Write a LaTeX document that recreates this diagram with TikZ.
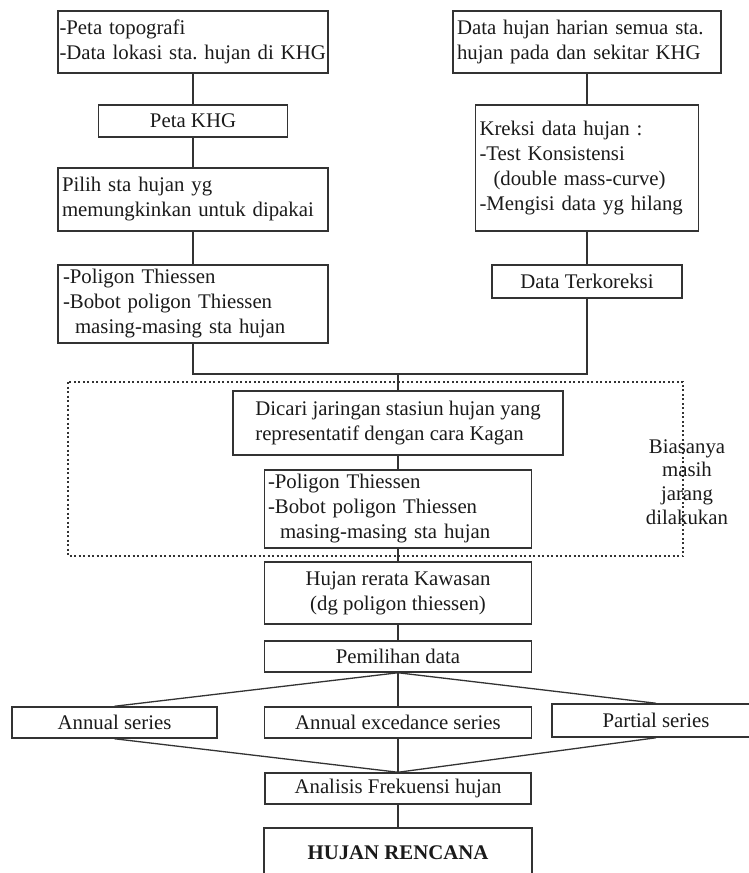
\documentclass[tikz,border=0pt]{standalone}
\usepackage{fontspec}
\setmainfont{Liberation Serif}
\frenchspacing
\definecolor{boxgray}{HTML}{333333}
\definecolor{textgray}{HTML}{1A1A1A}

\begin{document}
\begin{tikzpicture}[x=1pt, y=-1pt,
  box/.style={draw=boxgray, line width=1.5pt, inner xsep=4pt, inner ysep=0pt,
    text=textgray, font=\fontsize{20.8}{25}\selectfont},
  link/.style={draw=boxgray, line width=1.3pt}]

  \useasboundingbox (0,0) rectangle (748,873);

  % Left column: map and rain stations
  \node[box, text width=267pt, minimum height=62pt, align=left, inner xsep=1.5pt] (topo) at (193,42)
    {-Peta topografi\\-Data lokasi sta. hujan di KHG};
  \node[box, minimum width=189pt, minimum height=32pt, align=center] (khg) at (193,121) {Peta KHG};
  \node[box, text width=262pt, minimum height=63pt, align=left] (pilih) at (193,199.5)
    {Pilih sta hujan yg\\memungkinkan untuk dipakai};
  \node[box, text width=260pt, minimum height=78pt, align=left, inner xsep=5pt] (poliA) at (193,304)
    {-Poligon Thiessen\\-Bobot poligon Thiessen\\\hspace*{12pt}masing-masing sta hujan};

  % Right column: daily rain data
  \node[box, text width=260pt, minimum height=62pt, align=left] (harian) at (587,42)
    {Data hujan harian semua sta.\\hujan pada dan sekitar KHG};
  \node[box, text width=215pt, minimum height=126pt, align=left] (koreksi) at (587,168)
    {Kreksi data hujan :\\-Test Konsistensi\\\hspace*{14pt}(double mass-curve)\\-Mengisi data yg hilang};
  \node[box, minimum width=190pt, minimum height=33pt, align=center] (terkoreksi) at (587,281.5) {Data Terkoreksi};

  \draw[link] (topo) -- (khg);
  \draw[link] (khg) -- (pilih);
  \draw[link] (pilih) -- (poliA);
  \draw[link] (harian) -- (koreksi);
  \draw[link] (koreksi) -- (terkoreksi);

  % Joining the two columns
  \coordinate (join) at (398,374);
  \draw[link] (poliA.south) -- (poliA.south |- join) -- (terkoreksi.south |- join) -- (terkoreksi.south);

  % Kagan part (dotted frame)
  \draw[boxgray, line width=1.2pt, dash pattern=on 2pt off 2.5pt] (68,382) rectangle (683,556);
  \node[box, minimum width=330pt, minimum height=64pt, align=left] (kagan) at (398,423)
    {Dicari jaringan stasiun hujan yang\\representatif dengan cara Kagan};
  \node[box, text width=260pt, minimum height=78pt, align=left, inner xsep=3.5pt] (poliB) at (398,509)
    {-Poligon Thiessen\\-Bobot poligon Thiessen\\\hspace*{12pt}masing-masing sta hujan};
  \node[text=textgray, font=\fontsize{20.8}{23.7}\selectfont, align=center] (biasanya) at (687,482)
    {Biasanya\\masih\\jarang\\dilakukan};

  \draw[link] (join) -- (kagan);
  \draw[link] (kagan) -- (poliB);

  % Area rainfall and data selection
  \node[box, minimum width=267pt, minimum height=62pt, align=center] (rerata) at (398,593)
    {Hujan rerata Kawasan\\(dg poligon thiessen)};
  \node[box, minimum width=267pt, minimum height=31pt] (pemilihan) at (398,656.5) {Pemilihan data};

  \draw[link] (poliB) -- (rerata);
  \draw[link] (rerata) -- (pemilihan);

  % Series
  \node[box, minimum width=205pt, minimum height=31pt] (annual) at (114.5,722.5) {Annual series};
  \node[box, minimum width=267pt, minimum height=31pt] (excedance) at (398,722.5) {Annual excedance series};
  \node[box, minimum width=208pt, minimum height=33pt] (partial) at (656,720.5) {Partial series};

  \draw[link] (pemilihan.south) -- (annual.north);
  \draw[link] (pemilihan) -- (excedance);
  \draw[link] (pemilihan.south) -- (partial.north);

  % Frequency analysis
  \node[box, minimum width=266pt, minimum height=31pt] (frekuensi) at (398,788.5) {Analisis Frekuensi hujan};
  \node[box, minimum width=268pt, minimum height=50pt, font=\fontsize{20.8}{25}\selectfont\bfseries] (rencana) at (398,853) {HUJAN RENCANA};

  \draw[link] (annual.south) -- (frekuensi.north);
  \draw[link] (excedance) -- (frekuensi);
  \draw[link] (partial.south) -- (frekuensi.north);
  \draw[link] (frekuensi) -- (rencana);

\end{tikzpicture}
\end{document}
